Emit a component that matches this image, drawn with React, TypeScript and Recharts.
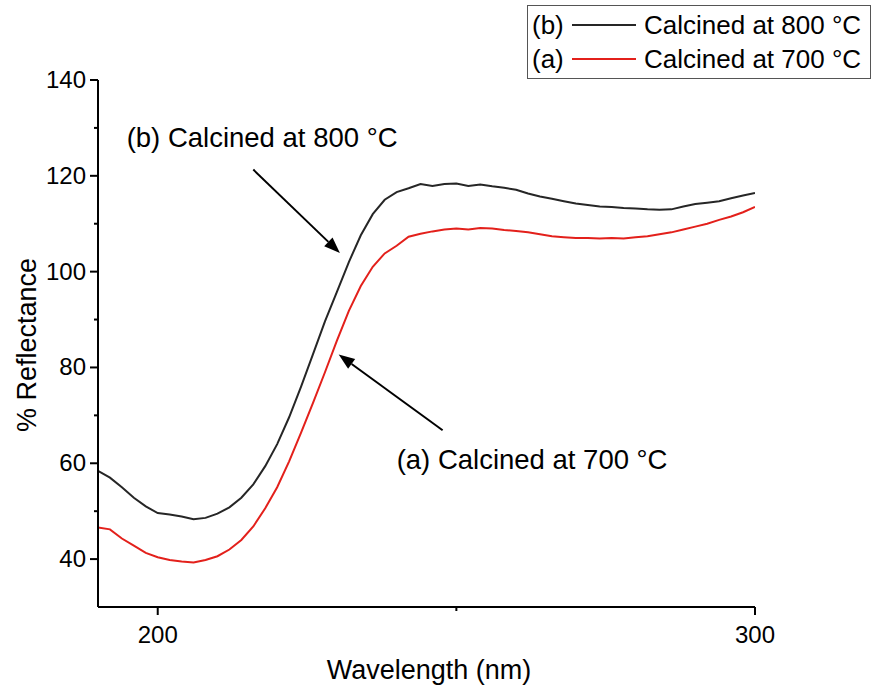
import React from 'react';
import {
  LineChart, Line, XAxis, YAxis, Legend, ReferenceLine, ReferenceDot, Label
} from 'recharts';

// wavelength (nm), every 2 nm
const wavelengths = [
  190, 192, 194, 196, 198, 200, 202, 204, 206, 208,
  210, 212, 214, 216, 218, 220, 222, 224, 226, 228,
  230, 232, 234, 236, 238, 240, 242, 244, 246, 248,
  250, 252, 254, 256, 258, 260, 262, 264, 266, 268,
  270, 272, 274, 276, 278, 280, 282, 284, 286, 288,
  290, 292, 294, 296, 298, 300,
];

// (b) calcined at 800 °C
const reflectance800 = [
  58.4, 57.0, 55.0, 52.8, 51.0, 49.6, 49.3, 48.9, 48.3, 48.6,
  49.5, 50.8, 52.8, 55.6, 59.4, 64.0, 69.6, 76.0, 82.8, 89.6,
  95.8, 102.0, 107.6, 112.0, 115.0, 116.6, 117.4, 118.3, 117.9, 118.3,
  118.4, 117.9, 118.2, 117.8, 117.5, 117.1, 116.3, 115.7, 115.2, 114.7,
  114.2, 113.9, 113.6, 113.5, 113.3, 113.2, 113.0, 112.9, 113.0, 113.6,
  114.1, 114.4, 114.7, 115.3, 115.9, 116.4,
];

// (a) calcined at 700 °C
const reflectance700 = [
  46.6, 46.2, 44.3, 42.8, 41.3, 40.4, 39.8, 39.5, 39.3, 39.8,
  40.6, 42.0, 44.0, 46.8, 50.6, 55.0, 60.4, 66.4, 72.6, 79.0,
  85.6, 91.8, 97.0, 101.0, 103.8, 105.4, 107.3, 107.9, 108.4, 108.8,
  109.0, 108.8, 109.1, 109.0, 108.7, 108.5, 108.2, 107.8, 107.4, 107.2,
  107.0, 107.0, 106.9, 107.0, 106.9, 107.2, 107.4, 107.8, 108.2, 108.8,
  109.4, 110.0, 110.8, 111.5, 112.4, 113.5,
];

const xMajor = [200, 300];
const xMinor = [250];
const yMajor = [40, 60, 80, 100, 120, 140];
const yMinor = [50, 70, 90, 110, 130];

const data = wavelengths.map((w, i) => ({
  w,
  b: reflectance800[i],
  a: reflectance700[i],
}));

const FONT = '"Liberation Sans", Arial, sans-serif';
const BLACK = '#262626';
const RED = '#e3201b';

const XTick = (props: any) => {
  const { x, y, payload } = props;
  const major = xMajor.includes(payload.value);
  return (
    <g>
      <line x1={x} y1={y} x2={x} y2={y + (major ? 8 : 4)} stroke="#000" strokeWidth={2} />
      {major && (
        <text x={x} y={y + 36} textAnchor="middle" fontSize={24} fontFamily={FONT} fill="#000">
          {payload.value}
        </text>
      )}
    </g>
  );
};

const YTick = (props: any) => {
  const { x, y, payload } = props;
  const major = yMajor.includes(payload.value);
  return (
    <g>
      <line x1={x} y1={y} x2={x - (major ? 8 : 4)} y2={y} stroke="#000" strokeWidth={2} />
      {major && (
        <text x={x - 12} y={y + 8} textAnchor="end" fontSize={24} fontFamily={FONT} fill="#000">
          {payload.value}
        </text>
      )}
    </g>
  );
};

const Arrow = (props: any) => {
  const { x1, y1, x2, y2 } = props;
  const ang = Math.atan2(y2 - y1, x2 - x1);
  const len = 16;
  const half = 6;
  const bx = x2 - len * Math.cos(ang);
  const by = y2 - len * Math.sin(ang);
  const px = -Math.sin(ang) * half;
  const py = Math.cos(ang) * half;
  return (
    <g>
      <line x1={x1} y1={y1} x2={bx} y2={by} stroke="#000" strokeWidth={2} />
      <polygon points={`${x2},${y2} ${bx + px},${by + py} ${bx - px},${by - py}`} fill="#000" />
    </g>
  );
};

const noteText = (text: string) => (props: any) => (
  <text x={props.cx} y={props.cy} fontSize={27.5} fontFamily={FONT} fill="#000">
    {text}
  </text>
);

const LegendBox = () => (
  <div
    style={{
      border: '1px solid #555',
      background: '#fff',
      fontFamily: FONT,
      fontSize: 26,
      color: '#000',
      padding: '2px 4px',
      width: 334,
      lineHeight: '34px',
    }}
  >
    {[
      { tag: '(b)', color: BLACK, name: 'Calcined at 800 °C' },
      { tag: '(a)', color: RED, name: 'Calcined at 700 °C' },
    ].map((r) => (
      <div key={r.tag} style={{ display: 'flex', alignItems: 'center' }}>
        <span style={{ width: 40 }}>{r.tag}</span>
        <span style={{ width: 64, height: 2, background: r.color, marginRight: 8 }} />
        <span>{r.name}</span>
      </div>
    ))}
  </div>
);

export default function App() {
  return (
    <div style={{ position: 'absolute', left: 0, top: 0, background: '#fff' }}>
      <LineChart
        width={873}
        height={692}
        data={data}
        margin={{ top: 80, right: 118, bottom: 35, left: 38 }}
      >
        <XAxis
          dataKey="w"
          type="number"
          domain={[190, 300]}
          ticks={[...xMajor, ...xMinor]}
          interval={0}
          tick={<XTick />}
          tickLine={false}
          tickSize={0}
          tickMargin={0}
          height={50}
          axisLine={{ stroke: '#000', strokeWidth: 2 }}
          allowDataOverflow
        >
          <Label
            content={() => (
              <text x={429} y={679} textAnchor="middle" fontSize={27} fontFamily={FONT} fill="#000">
                Wavelength (nm)
              </text>
            )}
          />
        </XAxis>
        <YAxis
          type="number"
          domain={[30, 140]}
          ticks={[...yMajor, ...yMinor]}
          interval={0}
          tick={<YTick />}
          tickLine={false}
          tickSize={0}
          tickMargin={0}
          width={60}
          axisLine={{ stroke: '#000', strokeWidth: 2 }}
          allowDataOverflow
        >
          <Label
            content={() => (
              <text
                x={27}
                y={345}
                transform="rotate(-90 27 345)"
                textAnchor="middle"
                dominantBaseline="central"
                fontSize={27}
                fontFamily={FONT}
                fill="#000"
              >
                % Reflectance
              </text>
            )}
          />
        </YAxis>
        <Legend
          layout="horizontal"
          verticalAlign="middle"
          align="center"
          content={() => <LegendBox />}
          wrapperStyle={{ top: 5, left: 527, width: 346 }}
        />
        <Line
          type="linear"
          dataKey="b"
          name="Calcined at 800 °C"
          stroke={BLACK}
          strokeWidth={2}
          dot={false}
          isAnimationActive={false}
        />
        <Line
          type="linear"
          dataKey="a"
          name="Calcined at 700 °C"
          stroke={RED}
          strokeWidth={2}
          dot={false}
          isAnimationActive={false}
        />
        <ReferenceLine segment={[{ x: 216.0, y: 121.3 }, { x: 230.5, y: 103.9 }]} shape={<Arrow />} />
        <ReferenceLine segment={[{ x: 247.7, y: 66.9 }, { x: 230.3, y: 82.7 }]} shape={<Arrow />} />
        <ReferenceDot x={194.8} y={126.0} r={0} shape={noteText('(b) Calcined at 800 °C')} />
        <ReferenceDot x={240.0} y={58.8} r={0} shape={noteText('(a) Calcined at 700 °C')} />
      </LineChart>
    </div>
  );
}
